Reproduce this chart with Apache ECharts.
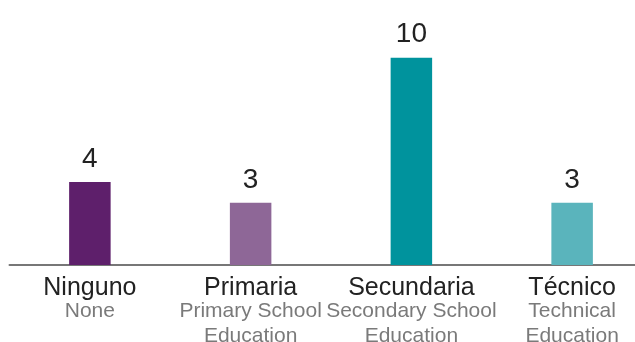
<!DOCTYPE html>
<html>
<head>
<meta charset="utf-8">
<script src="https://cdn.jsdelivr.net/npm/echarts@6/dist/echarts.min.js"></script>
<style>
  html, body { margin: 0; padding: 0; background: #ffffff; overflow: hidden; }
  #chart { width: 635px; height: 342px; }
</style>
</head>
<body>
<div id="chart"></div>
<script>
// ---- Data ----
const categories = ["Ninguno", "Primaria", "Secundaria", "Técnico"];
const subLabels = ["None", "Primary School\nEducation", "Secondary School\nEducation", "Technical\nEducation"];
const values = [4, 3, 10, 3];
const barColors = ["#5e1f6b", "#8e6797", "#00939d", "#5ab4bc"];

const chart = echarts.init(document.getElementById('chart'), null, { renderer: 'canvas' });

const labelText = categories.map((c, i) => {
  const subs = subLabels[i].split("\n").map(s => "{b|" + s + "}").join("\n");
  return "{a|" + c + "}\n" + subs;
});

chart.setOption({
  animation: false,
  backgroundColor: "#ffffff",
  grid: { left: 9.5, width: 643, top: 57.7, bottom: 77, containLabel: false, outerBoundsMode: "none" },
  xAxis: {
    type: "category",
    data: labelText,
    axisLine: { show: true, lineStyle: { color: "#777777", width: 2 } },
    axisTick: { show: false },
    axisLabel: {
      interval: 0,
      margin: 12,
      align: "center",
      fontFamily: "Liberation Sans",
      rich: {
        a: { fontSize: 25, color: "#222222", lineHeight: 22, fontFamily: "Liberation Sans" },
        b: { fontSize: 21, color: "#7a7a7a", lineHeight: 25, fontFamily: "Liberation Sans" }
      }
    }
  },
  yAxis: {
    type: "value",
    min: 0,
    max: 10,
    show: false,
    splitLine: { show: false }
  },
  series: [{
    type: "bar",
    barWidth: 41.5,
    data: values.map((v, i) => ({ value: v, itemStyle: { color: barColors[i] } })),
    label: {
      show: true,
      position: "top",
      distance: 9,
      fontSize: 28,
      color: "#222222",
      fontFamily: "Liberation Sans"
    }
  }]
});
</script>
</body>
</html>
